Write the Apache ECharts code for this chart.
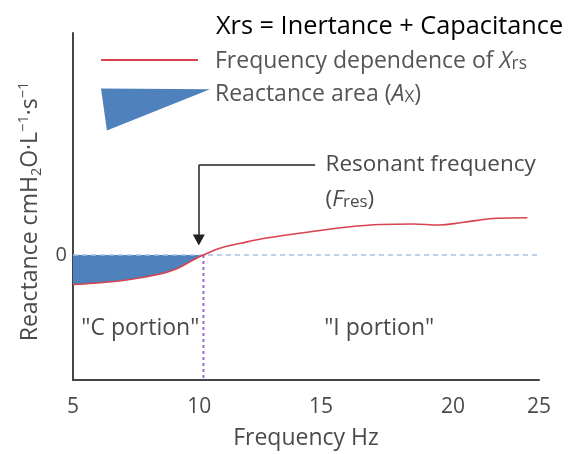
<!DOCTYPE html>
<html>
<head>
<meta charset="utf-8">
<script src="https://cdn.jsdelivr.net/npm/echarts@6/dist/echarts.min.js"></script>
<style>
html,body{margin:0;padding:0;background:#fff;}
#chart{width:569px;height:454px;}
</style>
</head>
<body>
<div id="chart"></div>
<script>
// ---- data (schematic) ----
const frequency = [5.0, 5.9, 7.3, 8.7, 9.4, 9.9, 10.3, 10.6, 11.3, 12.2, 13.3, 14.8, 16.8, 18.2, 19.6, 20.7, 21.7, 23.2, 24.5];
const reactance = [-1.18, -1.13, -1.0, -0.77, -0.57, -0.33, -0.13, 0, 0.27, 0.47, 0.68, 0.88, 1.12, 1.22, 1.24, 1.2, 1.3, 1.47, 1.49];
const resonantFreq = 10.6;
// tick labels as printed on the schematic and where they are printed on the axis
const xTickLabels = ['5', '10', '15', '20', '25'];
const xTickAt = [5, 10.42, 15.64, 21.31, 25];
const yTickLabels = ['0'];
// annotation anchors (axis units)
const arrowFrom = [15.39, 3.6];
const arrowCorner = [10.4, 3.6];
const arrowTip = [10.4, 0.6];
const fresNoteAt = [15.39, 2.28];
const portionLabels = ['"C portion"', '"I portion"'];
const portionAt = [[7.89, -2.92], [18.14, -2.92]];
const zeroLineEnd = 25.6;
const yMin = -5, yMax = 8.88;

const FONT = 'Open Sans';
const TXT = '#4a4a4a';
const FS = 22.5;

const curve = frequency.map((f, i) => [f, reactance[i]]);
const areaPart = curve.filter(p => p[0] <= resonantFreq);

const chart = echarts.init(document.getElementById('chart'), null, {renderer: 'canvas'});
const option = {
  animation: false,
  backgroundColor: '#fff',
  title: {
    text: 'Xrs = Inertance + Capacitance',
    left: 211, top: 9,
    textStyle: {fontFamily: FONT, fontSize: 25.3, fontWeight: 'normal', color: '#000'}
  },
  legend: [
    {
      data: [{name: 'Frequency dependence of Xrs', icon: 'rect'}],
      left: 101, top: 50, padding: 0,
      itemWidth: 97, itemHeight: 2,
      formatter: () => '{n|Frequency dependence of }{i|X}{s|rs}',
      textStyle: {
        padding: [0, 0, 0, 12],
        rich: {
          n: {fontFamily: FONT, fontSize: 23, color: '#555', lineHeight: 26, verticalAlign: 'bottom'},
          i: {fontFamily: FONT, fontSize: 23, fontStyle: 'italic', color: '#555', lineHeight: 26, verticalAlign: 'bottom'},
          s: {fontFamily: FONT, fontSize: 17.5, color: '#555', lineHeight: 22, verticalAlign: 'bottom'}
        }
      }
    },
    {
      data: ['Reactance area'],
      left: 101, top: 83, padding: 0,
      itemWidth: 109, itemHeight: 43,
      icon: 'path://M0,0 L111,1 L6,43 Z',
      formatter: () => '{n|Reactance area (}{i|A}{s|X}{n|)}',
      textStyle: {
        padding: [0, 0, 33, 0],
        rich: {
          n: {fontFamily: FONT, fontSize: 23, color: '#555', lineHeight: 26, verticalAlign: 'bottom'},
          i: {fontFamily: FONT, fontSize: 23, fontStyle: 'italic', color: '#555', lineHeight: 26, verticalAlign: 'bottom'},
          s: {fontFamily: FONT, fontSize: 17, color: '#555', lineHeight: 21, verticalAlign: 'bottom'}
        }
      }
    }
  ],
  grid: {left: 73, right: 30, top: 33, bottom: 74, containLabel: false, outerBoundsMode: 'none'},
  xAxis: {
    type: 'value', min: 5, max: 25, interval: 5,
    name: 'Frequency Hz', nameLocation: 'middle', nameGap: 47,
    nameTextStyle: {fontFamily: FONT, fontSize: 23, color: TXT},
    axisLine: {show: true, onZero: false, lineStyle: {color: '#444', width: 2}},
    axisTick: {show: false},
    splitLine: {show: false},
    axisLabel: {
      customValues: xTickAt,
      showMinLabel: true, showMaxLabel: true,
      margin: 17,
      fontFamily: FONT, fontSize: 21, color: TXT,
      formatter: (v) => {
        let best = 0;
        xTickAt.forEach((t, i) => { if (Math.abs(t - v) < Math.abs(xTickAt[best] - v)) best = i; });
        return xTickLabels[best];
      }
    }
  },
  yAxis: {
    type: 'value', min: yMin, max: yMax, interval: 5,
    name: '{n|Reactance cmH}{sub|2}{n|O·L}{sup|−1}{n|·s}{sup|−1}',
    nameLocation: 'middle', nameGap: 26, nameRotate: 90,
    nameTextStyle: {
      fontFamily: FONT, fontSize: 23, color: TXT, padding: [0, 10, 0, 0],
      rich: {
        n: {fontFamily: FONT, fontSize: 23, color: TXT, lineHeight: 28, verticalAlign: 'middle'},
        sub: {fontFamily: FONT, fontSize: 14.5, color: TXT, lineHeight: 28, verticalAlign: 'bottom'},
        sup: {fontFamily: FONT, fontSize: 14.5, color: TXT, lineHeight: 28, verticalAlign: 'top'}
      }
    },
    axisLine: {show: true, onZero: false, lineStyle: {color: '#444', width: 2}},
    axisTick: {show: false},
    splitLine: {show: false},
    axisLabel: {
      margin: 6, fontFamily: FONT, fontSize: 20, color: TXT,
      formatter: (v) => (v === 0 ? yTickLabels[0] : '')
    }
  },
  series: [
    {
      name: 'Reactance area',
      type: 'line',
      data: areaPart,
      smooth: 0.4,
      symbol: 'none',
      showSymbol: false,
      silent: true,
      lineStyle: {width: 0, color: '#4f81bd'},
      itemStyle: {color: '#4f81bd'},
      areaStyle: {color: '#4f81bd', opacity: 1},
      z: 1
    },
    {
      name: 'zero',
      type: 'line',
      data: [[5, 0], [zeroLineEnd, 0]],
      symbol: 'none',
      showSymbol: false, silent: true, clip: false,
      lineStyle: {color: '#a9c4e8', width: 1.5, type: [5, 4]},
      z: 2
    },
    {
      name: 'fres',
      type: 'line',
      data: [[resonantFreq, 0], [resonantFreq, yMin]],
      symbol: 'none',
      showSymbol: false, silent: true,
      lineStyle: {color: '#9b6bd0', width: 2, type: [3, 3]},
      z: 2,
      markLine: {
        silent: true,
        symbol: ['none', 'none'],
        label: {show: false},
        lineStyle: {color: '#222', width: 1.5, type: 'solid'},
        data: [
          [{coord: arrowFrom}, {coord: arrowCorner}],
          [{coord: arrowCorner}, {coord: arrowTip, symbol: 'triangle', symbolSize: [12, 11]}]
        ]
      },
      markPoint: {
        silent: true,
        symbol: 'circle', symbolSize: 1,
        itemStyle: {color: 'rgba(0,0,0,0)'},
        data: [
          {coord: arrowFrom, label: {show: true, position: 'right', distance: 10, formatter: 'Resonant frequency',
            fontFamily: FONT, fontSize: FS, color: TXT}},
          {coord: fresNoteAt, label: {show: true, position: 'right', distance: 10,
            formatter: '{n|(}{i|F}{s|res}{n|)}',
            rich: {
              n: {fontFamily: FONT, fontSize: FS, color: TXT, lineHeight: 26, verticalAlign: 'bottom'},
              i: {fontFamily: FONT, fontSize: FS, color: TXT, fontStyle: 'italic', lineHeight: 26, verticalAlign: 'bottom'},
              s: {fontFamily: FONT, fontSize: 17, color: TXT, lineHeight: 22, verticalAlign: 'bottom'}
            }}},
          {coord: portionAt[0], label: {show: true, position: 'inside', formatter: portionLabels[0],
            fontFamily: FONT, fontSize: 23, color: TXT}},
          {coord: portionAt[1], label: {show: true, position: 'inside', formatter: portionLabels[1],
            fontFamily: FONT, fontSize: 23, color: TXT}}
        ]
      }
    },
    {
      name: 'Frequency dependence of Xrs',
      type: 'line',
      data: curve,
      smooth: 0.4,
      symbol: 'none',
      showSymbol: false,
      silent: true,
      itemStyle: {color: '#d8434f'},
      lineStyle: {color: '#d8434f', width: 1.6},
      z: 4
    }
  ]
};
chart.setOption(option);
</script>
</body>
</html>
